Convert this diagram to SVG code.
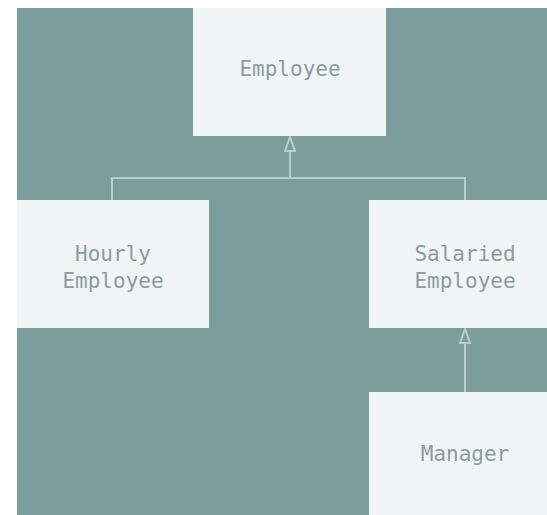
<svg xmlns="http://www.w3.org/2000/svg" width="547" height="515" viewBox="0 0 547 515">
  <style>
    .bg { fill: #7b9d9d; }
    .box { fill: #f1f5f6; }
    .lbl { font-family: "DejaVu Sans Mono", "Liberation Mono", monospace; font-size: 21px; fill: #8c9c9d; text-anchor: middle; }
    .conn { fill: none; stroke: #b3cfcf; stroke-width: 2; }
  </style>
  <defs>
    <marker id="tri" viewBox="0 0 16 12" refX="15" refY="6" markerWidth="16" markerHeight="12" markerUnits="userSpaceOnUse" orient="auto">
      <path d="M1,1 L15,6 L1,11 Z" fill="#7b9d9d" stroke="#b3cfcf" stroke-width="2"/>
    </marker>
  </defs>
  <rect x="0" y="0" width="547" height="515" fill="#ffffff"/>
  <rect class="bg" x="17" y="8" width="530" height="507"/>
  <g id="connectors">
    <path class="conn" d="M112,200 V178 H465 V200"/>
    <path class="conn" d="M290,178 V137" marker-end="url(#tri)"/>
    <path class="conn" d="M465,392 V329" marker-end="url(#tri)"/>
  </g>
  <g id="employee">
    <rect class="box" x="193" y="8" width="193" height="128"/>
    <text class="lbl" x="290" y="76">Employee</text>
  </g>
  <g id="hourly-employee">
    <rect class="box" x="17" y="200" width="192" height="128"/>
    <text class="lbl" x="113" y="261">Hourly</text>
    <text class="lbl" x="113" y="288">Employee</text>
  </g>
  <g id="salaried-employee">
    <rect class="box" x="369" y="200" width="192" height="128"/>
    <text class="lbl" x="465" y="261">Salaried</text>
    <text class="lbl" x="465" y="288">Employee</text>
  </g>
  <g id="manager">
    <rect class="box" x="369" y="392" width="192" height="128"/>
    <text class="lbl" x="465" y="461">Manager</text>
  </g>
</svg>
